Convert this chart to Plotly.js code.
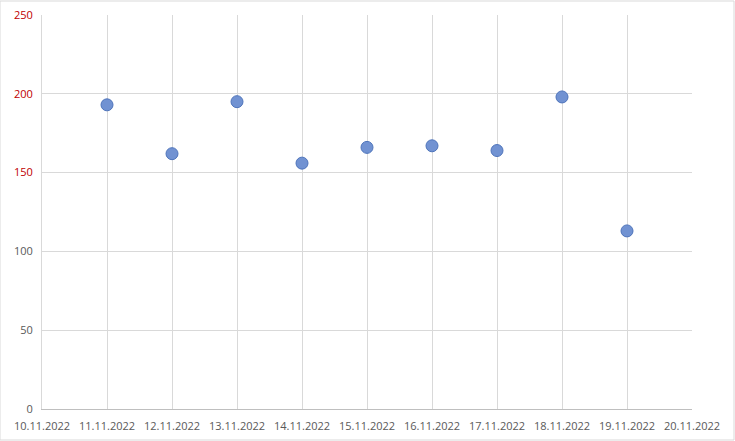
<!DOCTYPE html>
<html><head><meta charset="utf-8">
<script src="https://cdn.plot.ly/plotly-3.0.1.min.js"></script>
<style>html,body{margin:0;padding:0;background:#fff}#chart{width:735px;height:441px}</style>
</head><body><div id="chart"></div>
<script>
const dates = ["2022-11-11","2022-11-12","2022-11-13","2022-11-14","2022-11-15","2022-11-16","2022-11-17","2022-11-18","2022-11-19"];
const values = [193, 162, 195, 156, 166, 167, 164, 198, 113];
const yTickVals = [0, 50, 100, 150, 200, 250];
const yTickColors = ["#595959","#595959","#595959","#c00000","#c00000","#c00000"];
const yTickText = yTickVals.map((v,i)=>'<span style="color:'+yTickColors[i]+'">'+v+'</span>');

Plotly.newPlot('chart', [{
  x: dates, y: values, type: 'scatter', mode: 'markers',
  marker: {size: 12, color: '#7192d2', line: {color: '#4e74bb', width: 1}}
}], {
  width: 735, height: 441,
  margin: {l: 42, r: 43, t: 15, b: 32},
  paper_bgcolor: '#fff', plot_bgcolor: '#fff',
  showlegend: false,
  font: {family: 'Open Sans, Liberation Sans, sans-serif', size: 11, color: '#595959'},
  xaxis: {
    type: 'date', range: ['2022-11-10', '2022-11-20'],
    tickformat: '%d.%m.%Y', dtick: 86400000, tick0: '2022-11-10',
    showgrid: true, gridcolor: '#d9d9d9', gridwidth: 1,
    showline: true, linecolor: '#bfbfbf', zeroline: false,
    ticks: '', tickfont: {size: 11, color: '#595959'}, ticklabelstandoff: 7
  },
  yaxis: {
    range: [0, 250], tickvals: yTickVals, ticktext: yTickText,
    showgrid: true, gridcolor: '#d9d9d9', gridwidth: 1,
    showline: true, linecolor: '#d9d9d9', zeroline: false,
    ticks: '', tickfont: {size: 11}, ticklabelstandoff: 6
  },
  shapes: [{type: 'rect', xref: 'paper', yref: 'paper', x0: -42/650, x1: 1+42/650, y0: -31/394, y1: 1+14/394,
    line: {color: '#d9d9d9', width: 1}}]
}, {displayModeBar: false, staticPlot: true});
</script></body></html>
